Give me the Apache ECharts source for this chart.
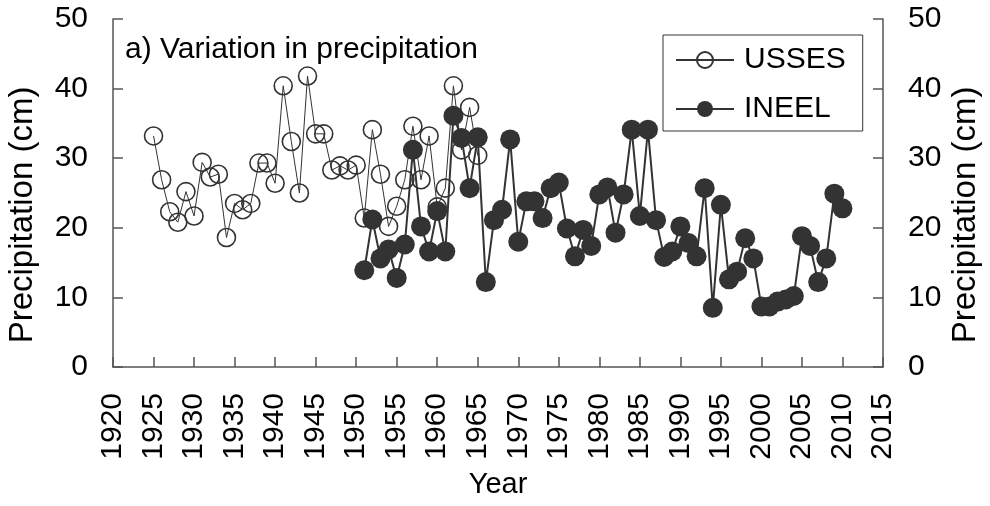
<!DOCTYPE html>
<html><head><meta charset="utf-8">
<script src="https://cdn.jsdelivr.net/npm/echarts@6/dist/echarts.min.js"></script>
<style>html,body{margin:0;padding:0;background:#fff}#c{width:990px;height:506px}</style>
</head><body><div id="c"></div>
<script>
const usssesYears = [1925,1926,1927,1928,1929,1930,1931,1932,1933,1934,1935,1936,1937,1938,1939,1940,1941,1942,1943,1944,1945,1946,1947,1948,1949,1950,1951,1952,1953,1954,1955,1956,1957,1958,1959,1960,1961,1962,1963,1964,1965];
const usssesValues = [33.2,26.9,22.3,20.8,25.2,21.7,29.4,27.3,27.7,18.6,23.5,22.6,23.5,29.3,29.3,26.4,40.4,32.4,25.0,41.8,33.5,33.5,28.3,28.9,28.3,29.0,21.4,34.1,27.7,20.2,23.1,26.9,34.6,26.9,33.2,23.0,25.7,40.4,31.2,37.3,30.4];
const ineelYears = [1951,1952,1953,1954,1955,1956,1957,1958,1959,1960,1961,1962,1963,1964,1965,1966,1967,1968,1969,1970,1971,1972,1973,1974,1975,1976,1977,1978,1979,1980,1981,1982,1983,1984,1985,1986,1987,1988,1989,1990,1991,1992,1993,1994,1995,1996,1997,1998,1999,2000,2001,2002,2003,2004,2005,2006,2007,2008,2009,2010];
const ineelValues = [13.9,21.2,15.6,16.9,12.8,17.6,31.2,20.2,16.6,22.4,16.6,36.1,32.9,25.7,33.0,12.2,21.1,22.6,32.7,18.0,23.8,23.8,21.4,25.7,26.5,19.9,15.9,19.7,17.4,24.8,25.8,19.3,24.8,34.1,21.7,34.1,21.1,15.8,16.6,20.2,17.8,15.9,25.7,8.5,23.3,12.6,13.7,18.5,15.6,8.7,8.7,9.4,9.7,10.2,18.8,17.4,12.2,15.6,24.9,22.8];
const titleText = 'a) Variation in precipitation';
const yName = 'Precipitation (cm)';
const xName = 'Year';

const ink = '#333';
const axisColor = '#555';
const font = 'Arial, "Liberation Sans", sans-serif';
const chart = echarts.init(document.getElementById('c'), null, {renderer: 'canvas'});
const yAxisBase = {
  type: 'value', min: 0, max: 50, interval: 10,
  axisLine: {show: true, lineStyle: {color: axisColor, width: 1.5}},
  axisTick: {show: true, inside: true, length: 10, lineStyle: {color: axisColor, width: 1.5}},
  axisLabel: {fontSize: 30, color: '#000', fontFamily: font, margin: 25},
  splitLine: {show: false}
};
const nameStyle = {fontSize: 33, fill: '#000', fontFamily: font, align: 'center', verticalAlign: 'middle'};
chart.setOption({
  animation: false,
  backgroundColor: '#fff',
  title: {text: titleText, left: 125, top: 35, padding: 0, textStyle: {fontSize: 30, fontWeight: 'normal', color: '#000', fontFamily: font}},
  legend: {
    orient: 'vertical', left: 663, top: 35,
    padding: [10, 17, 7, 12], itemGap: 19, itemWidth: 58, itemHeight: 20,
    borderColor: '#333', borderWidth: 1,
    textStyle: {fontSize: 30, color: '#000', fontFamily: font, padding: [0,0,0,5]},
    data: ['USSES', 'INEEL']
  },
  graphic: [
    {type: 'text', x: 23, y: 215, rotation: Math.PI / 2, style: Object.assign({text: yName}, nameStyle)},
    {type: 'text', x: 966, y: 215, rotation: Math.PI / 2, style: Object.assign({text: yName}, nameStyle)},
    {type: 'text', x: 498, y: 485, style: {text: xName, fontSize: 29, fill: '#000', fontFamily: font, align: 'center', verticalAlign: 'middle'}}
  ],
  grid: {left: 113, right: 107, top: 19, bottom: 139},
  xAxis: {
    type: 'value', min: 1920, max: 2015, interval: 5,
    axisLine: {show: true, onZero: false, lineStyle: {color: axisColor, width: 1.5}},
    axisTick: {show: true, inside: true, length: 10, lineStyle: {color: axisColor, width: 1.5}},
    axisLabel: {rotate: 90, fontSize: 30, color: '#000', fontFamily: font, margin: 26, formatter: v => String(v)},
    splitLine: {show: false}
  },
  yAxis: [
    Object.assign({}, yAxisBase, {position: 'left'}),
    Object.assign({}, yAxisBase, {position: 'right'})
  ],
  series: [
    {
      name: 'USSES', type: 'line',
      data: usssesYears.map((y, i) => [y, usssesValues[i]]),
      symbol: 'circle', symbolSize: 18,
      itemStyle: {color: 'rgba(255,255,255,0)', borderColor: ink, borderWidth: 1.6},
      lineStyle: {color: ink, width: 1}, z: 2
    },
    {
      name: 'INEEL', type: 'line',
      data: ineelYears.map((y, i) => [y, ineelValues[i]]),
      symbol: 'circle', symbolSize: 20,
      itemStyle: {color: ink, borderColor: ink, borderWidth: 0},
      lineStyle: {color: ink, width: 2}, z: 3
    }
  ]
});
</script></body></html>
